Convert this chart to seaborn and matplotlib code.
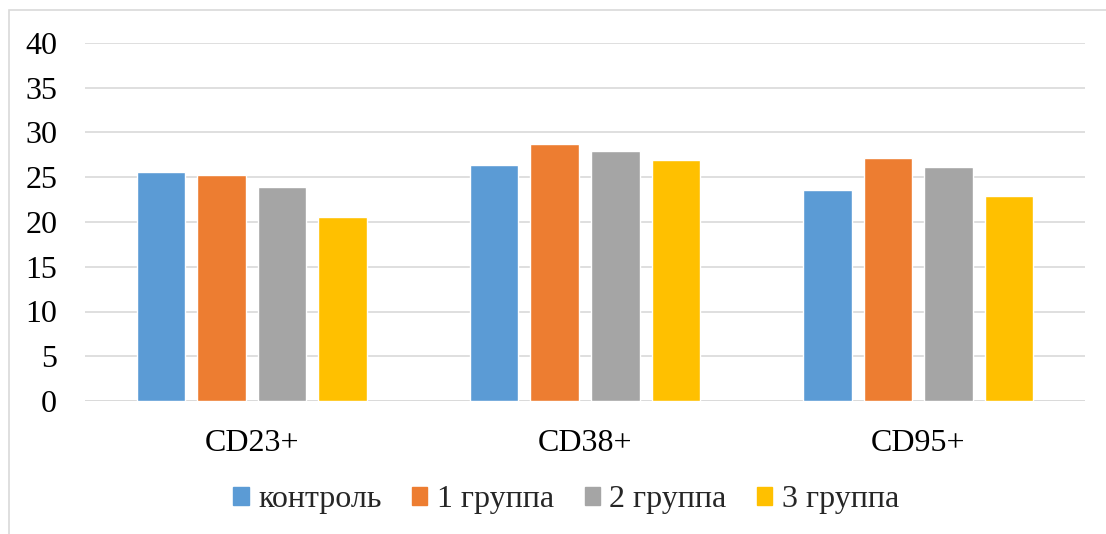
import pandas as pd
import matplotlib.pyplot as plt
import matplotlib.patches as mpatches
import seaborn as sns

# Данные с диаграммы
categories = ["CD23+", "CD38+", "CD95+"]
groups = ["контроль", "1 группа", "2 группа", "3 группа"]
kontrol = [25.6, 26.4, 23.6]
gruppa1 = [25.3, 28.7, 27.1]
gruppa2 = [23.9, 27.9, 26.1]
gruppa3 = [20.55, 26.9, 22.9]
colors = ["#5B9BD5", "#ED7D31", "#A5A5A5", "#FFC000"]

rows = []
for g, vals in zip(groups, [kontrol, gruppa1, gruppa2, gruppa3]):
    for c, v in zip(categories, vals):
        rows.append({"cat": c, "group": g, "value": v})
df = pd.DataFrame(rows)

sns.set_theme(style="white")
plt.rcParams["font.family"] = ["Liberation Serif", "DejaVu Serif"]

fig = plt.figure(figsize=(11.06, 5.34), dpi=100)
ax = fig.add_axes([85 / 1106, 1 - 401 / 534, 1000 / 1106, 358 / 534])

sns.barplot(data=df, x="cat", y="value", hue="group", hue_order=groups,
            palette=colors, width=0.727, gap=0.2, saturation=1,
            errorbar=None, ax=ax, legend=False)

ax.set_ylim(0, 40)
ax.set_xlim(-0.5, 2.5)
ax.set_yticks(range(0, 41, 5))
ax.yaxis.grid(True, color="#D9D9D9", linewidth=1.2)
ax.set_axisbelow(True)
for s in ax.spines.values():
    s.set_visible(False)
ax.axhline(0, color="#D9D9D9", linewidth=1.2, zorder=0)
ax.set_xlabel("")
ax.set_ylabel("")
ax.tick_params(axis="both", length=0, labelsize=23, colors="black")
ax.tick_params(axis="y", pad=20)
ax.tick_params(axis="x", pad=20)

handles = [mpatches.Patch(color=c, label=g) for c, g in zip(colors, groups)]
fig.legend(handles=handles, loc="center", bbox_to_anchor=(0.512, 1 - 500 / 534),
           ncol=4, frameon=False, fontsize=23, handlelength=0.48, handleheight=0.48,
           handletextpad=0.3, columnspacing=0.95)

# рамка диаграммы
fig.patches.append(mpatches.Rectangle((9 / 1106, -0.1), 1.2, 1 - 10 / 534 + 0.1,
                                      transform=fig.transFigure, fill=False,
                                      edgecolor="#D9D9D9", linewidth=1.2))

fig.savefig("out.png", dpi=100)
